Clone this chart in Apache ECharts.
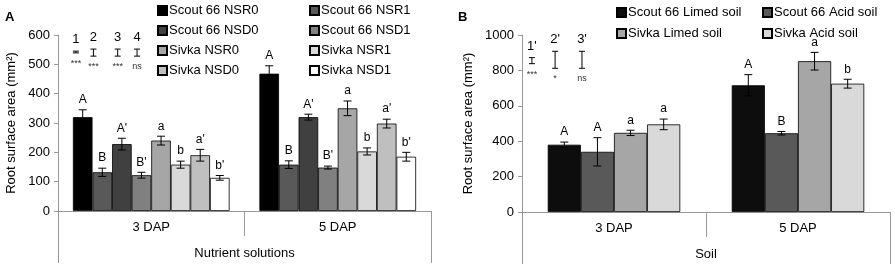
<!DOCTYPE html>
<html>
<head>
<meta charset="utf-8">
<script src="https://cdn.jsdelivr.net/npm/echarts@6/dist/echarts.min.js"></script>
<style>
    html, body { margin: 0; padding: 0; background: #fff; }
    #chart { width: 895px; height: 270px; }
</style>
</head>
<body>
<div id="chart"></div>
<script>
// Panel A: nutrient solutions
const catsA = ['3 DAP', '5 DAP'];
const namesA = ['Scout 66 NSR0', 'Scout 66 NSR1', 'Scout 66 NSD0', 'Scout 66 NSD1',
    'Sivka NSR0', 'Sivka NSR1', 'Sivka NSD0', 'Sivka NSD1'];
const valsA = [[320, 468], [132, 158], [228, 320], [122, 148], [240, 350], [158, 203], [190, 298], [113, 185]];
const errA = [[25, 27], [14, 13], [20, 10], [10, 5], [15, 25], [12, 12], [20, 15], [8, 15]];
const lettersA = [['A', 'A'], ['B', 'B'], ["A'", "A'"], ["B'", "B'"], ['a', 'a'], ['b', 'b'], ["a'", "a'"], ["b'", "b'"]];
const colorsA = ['#000000', '#595959', '#404040', '#808080', '#a6a6a6', '#d9d9d9', '#bfbfbf', '#ffffff'];

// Panel B: soil
const catsB = ['3 DAP', '5 DAP'];
const namesB = ['Scout 66 Limed soil', 'Scout 66 Acid soil', 'Sivka Limed soil', 'Sivka Acid soil'];
const valsB = [[380, 716], [340, 445], [447, 852], [495, 725]];
const errB = [[15, 60], [80, 10], [15, 50], [30, 25]];
const lettersB = [['A', 'A'], ['A', 'B'], ['a', 'a'], ['a', 'b']];
const colorsB = ['#0d0d0d', '#595959', '#a6a6a6', '#d9d9d9'];

// representative SE bars (top-left of each panel)
const seLabelsA = ['1', '2', '3', '4'];
const seSigA = ['***', '***', '***', 'ns'];
const seXA = [4.8, 9.5, 16, 21.2];
const seMidA = [542, 540, 540, 540];
const seHalfA = [3, 12, 12, 12];
const seLabelsB = ["1'", "2'", "3'"];
const seSigB = ['***', '*', 'ns'];
const seXB = [2.7, 9, 16.3];
const seMidB = [855, 860, 860];
const seHalfB = [17, 48, 48];

const gapA = 0.16, gapB = 0.28;
const font = 'Liberation Sans, Arial, sans-serif';

const chart = echarts.init(document.getElementById('chart'));

function errorSeries(gridIdx, i, n, gap, vals, errs, letters) {
    return {
        type: 'custom',
        xAxisIndex: gridIdx * 3,
        yAxisIndex: gridIdx,
        z: 5,
        data: vals.map((v, k) => [k, v, errs[k], letters[k]]),
        renderItem: (params, api) => {
            const x = api.value(0), v = api.value(1), e = api.value(2);
            const band = api.size([1, 0])[0];
            const barW = band * (1 - gap) / n;
            const base = api.coord([x, v]);
            const cx = base[0] - band * (1 - gap) / 2 + barW * (i + 0.5);
            const top = api.coord([x, v + e])[1];
            const bot = api.coord([x, v - e])[1];
            const st = { stroke: '#000', lineWidth: 1 };
            return {
                type: 'group',
                children: [
                    { type: 'line', shape: { x1: cx, y1: top, x2: cx, y2: bot }, style: st },
                    { type: 'line', shape: { x1: cx - 4, y1: top, x2: cx + 4, y2: top }, style: st },
                    { type: 'line', shape: { x1: cx - 4, y1: bot, x2: cx + 4, y2: bot }, style: st },
                    { type: 'text', x: cx, y: top - 4, style: { text: api.value(3), fill: '#000', font: '12px ' + font, align: 'center', verticalAlign: 'bottom' } }
                ]
            };
        }
    };
}

function seSeries(gridIdx, xs, mids, halfs, labels, sigs) {
    return {
        type: 'custom',
        xAxisIndex: gridIdx * 3 + 2,
        yAxisIndex: gridIdx,
        z: 5,
        data: xs.map((x, k) => [x, mids[k], halfs[k], labels[k], sigs[k]]),
        renderItem: (params, api) => {
            const x = api.value(0), m = api.value(1), h = api.value(2);
            const top = api.coord([x, m + h]);
            const bot = api.coord([x, m - h]);
            const cx = top[0];
            const st = { stroke: '#000', lineWidth: 1 };
            return {
                type: 'group',
                children: [
                    { type: 'line', shape: { x1: cx, y1: top[1], x2: cx, y2: bot[1] }, style: st },
                    { type: 'line', shape: { x1: cx - 3, y1: top[1], x2: cx + 3, y2: top[1] }, style: st },
                    { type: 'line', shape: { x1: cx - 3, y1: bot[1], x2: cx + 3, y2: bot[1] }, style: st },
                    { type: 'text', x: cx, y: top[1] - 5, style: { text: api.value(3), fill: '#000', font: '13px ' + font, align: 'center', verticalAlign: 'bottom' } },
                    { type: 'text', x: cx, y: bot[1] + 6, style: { text: api.value(4), fill: '#333', font: '9px ' + font, align: 'center', verticalAlign: 'top' } }
                ]
            };
        }
    };
}

function xAxes(gridIdx, cats, title) {
    return [
        {
            type: 'category', gridIndex: gridIdx, data: cats,
            axisLine: { show: true, lineStyle: { color: '#999' } },
            axisTick: { show: true, interval: 0, length: 25, lineStyle: { color: '#999' } },
            axisLabel: { color: '#000', fontSize: 13, fontFamily: font, margin: 10 }
        },
        {
            type: 'category', gridIndex: gridIdx, data: [title], position: 'bottom',
            axisLine: { show: false },
            axisTick: { show: true, interval: 0, length: 52, lineStyle: { color: '#999' } },
            axisLabel: { color: '#000', fontSize: 13, fontFamily: font, margin: 36 }
        },
        { type: 'value', gridIndex: gridIdx, min: 0, max: 100, show: false }
    ];
}

function yAxis(gridIdx, max, interval) {
    return {
        type: 'value', gridIndex: gridIdx, min: 0, max: max, interval: interval,
        name: 'Root surface area (mm²)', nameLocation: 'middle', nameGap: gridIdx === 0 ? 40 : 47,
        nameTextStyle: { color: '#000', fontSize: 13, fontFamily: font },
        splitLine: { show: false },
        axisLine: { show: true, lineStyle: { color: '#999' } },
        axisTick: { show: true, length: 4, lineStyle: { color: '#999' } },
        axisLabel: { color: '#000', fontSize: 13, fontFamily: font, margin: 8, formatter: v => String(v) }
    };
}

const series = [];
namesA.forEach((name, i) => {
    series.push({
        name: name, type: 'bar', xAxisIndex: 0, yAxisIndex: 0,
        data: valsA[i], barGap: '0%', barCategoryGap: (gapA * 100) + '%',
        itemStyle: { color: colorsA[i], borderColor: '#000', borderWidth: 0.8 }
    });
});
namesA.forEach((name, i) => series.push(errorSeries(0, i, namesA.length, gapA, valsA[i], errA[i], lettersA[i])));
namesB.forEach((name, i) => {
    series.push({
        name: name, type: 'bar', xAxisIndex: 3, yAxisIndex: 1,
        data: valsB[i], barGap: '0%', barCategoryGap: (gapB * 100) + '%',
        itemStyle: { color: colorsB[i], borderColor: '#000', borderWidth: 0.8 }
    });
});
namesB.forEach((name, i) => series.push(errorSeries(1, i, namesB.length, gapB, valsB[i], errB[i], lettersB[i])));
series.push(seSeries(0, seXA, seMidA, seHalfA, seLabelsA, seSigA));
series.push(seSeries(1, seXB, seMidB, seHalfB, seLabelsB, seSigB));

const legendBase = {
    orient: 'vertical', itemWidth: 9, itemHeight: 9, itemGap: 7,
    icon: 'rect', selectedMode: false,
    textStyle: { color: '#000', fontSize: 13, fontFamily: font, padding: [0, 0, 0, -3] }
};

chart.setOption({
    animation: false,
    backgroundColor: '#fff',
    title: [
        { text: 'A', left: 0, top: 6, textStyle: { fontSize: 13, fontWeight: 'bold', fontFamily: font, color: '#000' } },
        { text: 'B', left: 453, top: 6, textStyle: { fontSize: 13, fontWeight: 'bold', fontFamily: font, color: '#000' } }
    ],
    legend: [
        Object.assign({}, legendBase, { left: 152, top: -1, data: [namesA[0], namesA[2], namesA[4], namesA[6]] }),
        Object.assign({}, legendBase, { left: 304, top: -1, data: [namesA[1], namesA[3], namesA[5], namesA[7]] }),
        Object.assign({}, legendBase, { left: 611, top: 1, itemGap: 8, data: [namesB[0], namesB[2]] }),
        Object.assign({}, legendBase, { left: 757, top: 1, itemGap: 8, data: [namesB[1], namesB[3]] })
    ],
    grid: [
        { left: 58, top: 35, width: 373, height: 176 },
        { left: 522, top: 35, width: 368, height: 177 }
    ],
    xAxis: xAxes(0, catsA, 'Nutrient solutions').concat(xAxes(1, catsB, 'Soil')),
    yAxis: [yAxis(0, 600, 100), yAxis(1, 1000, 200)],
    series: series
});
</script>
</body>
</html>
